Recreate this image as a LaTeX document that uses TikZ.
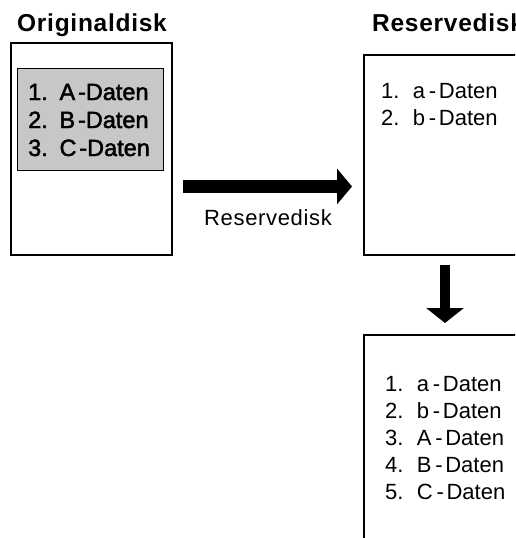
\documentclass[tikz,border=0pt]{standalone}
\usepackage{fontspec}
\setmainfont{Liberation Sans}
\newfontfamily\titlefont[LetterSpace=3.0]{Liberation Sans}
\newfontfamily\captionfont[LetterSpace=3.0]{Liberation Sans}
\newfontfamily\shadefont[FakeBold=2]{Liberation Sans}
\usetikzlibrary{arrows.meta}

% list entries: number, letter, "-Daten" with the wide typewriter-like gaps
\newcommand\shadeline[2]{#1.\hspace{0.5em}#2\hspace{0.12em}-Daten}
\newcommand\plainline[2]{#1.\hspace{0.6em}#2\hspace{0.18em}-\hspace{0.12em}Daten}

\tikzset{
  disk/.style={draw=black, line width=1.5pt},
  shade/.style={draw=black, line width=1pt, fill=black!22},
  heading/.style={anchor=base west, inner sep=0pt, font=\titlefont\bfseries\fontsize{24.5}{24.5}\selectfont},
  shadetext/.style={anchor=base west, inner sep=0pt, font=\shadefont\fontsize{23.5}{23.5}\selectfont},
  entry/.style={anchor=base west, inner sep=0pt, font=\fontsize{22}{22}\selectfont},
  caption/.style={anchor=base west, inner sep=0pt, font=\captionfont\fontsize{22}{22}\selectfont},
  fatarrow/.style={draw=black}
}

\begin{document}
\begin{tikzpicture}[x=1pt, y=-1pt]
\useasboundingbox (0,0) rectangle (515,538);
\clip (0,0) rectangle (515,538);

% source disk with its shaded data area
\node[heading] (origtitle) at (17,31) {Originaldisk};
\draw[disk] (11,43) rectangle (172,255);
\draw[shade] (17,68) rectangle (163,170);
\node[shadetext] (oa) at (28,100) {\shadeline{1}{A}};
\node[shadetext] (ob) at (28,128) {\shadeline{2}{B}};
\node[shadetext] (oc) at (28,156) {\shadeline{3}{C}};

% backup disk before the copy
\node[heading] (restitle) at (372,31) {Reservedisk};
\draw[disk] (364,55) rectangle (600,255);
\node[entry] (ra) at (381,98) {\plainline{1}{a}};
\node[entry] (rb) at (381,125) {\plainline{2}{b}};

% backup disk after the copy
\draw[disk] (364,335) rectangle (600,620);
\node[entry] (ba) at (385,391) {\plainline{1}{a}};
\node[entry] (bb) at (385,418) {\plainline{2}{b}};
\node[entry] (bc) at (385,445) {\plainline{3}{A}};
\node[entry] (bd) at (385,472) {\plainline{4}{B}};
\node[entry] (be) at (385,499) {\plainline{5}{C}};

% copy arrow with its label
\coordinate (hfrom) at (183,186.5);
\coordinate (hto) at (352,186.5);
\draw[fatarrow, line width=13pt, -{Triangle[length=15pt, width=35pt]}] (hfrom) -- (hto);
\node[caption] (copylabel) at (204,225) {Reservedisk};

% result arrow
\coordinate (vfrom) at (445,265);
\coordinate (vto) at (445,323);
\draw[fatarrow, line width=10pt, -{Triangle[length=15pt, width=37pt]}] (vfrom) -- (vto);
\end{tikzpicture}
\end{document}
